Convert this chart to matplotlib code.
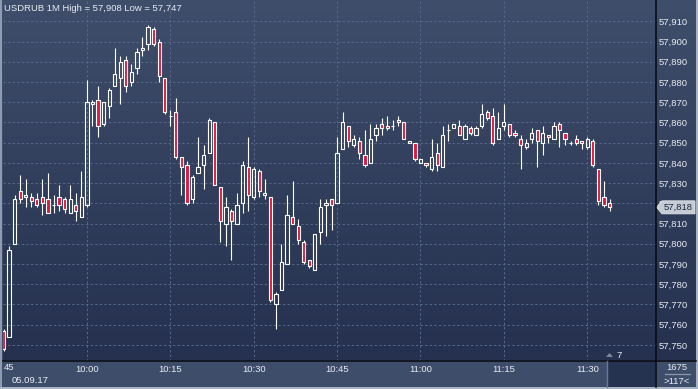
import numpy as np
import matplotlib.pyplot as plt
from matplotlib import transforms
from matplotlib.patches import Polygon, Rectangle

# USDRUB 1-minute bars, 05.09.17, first bar 09:45
opens = [57.757, 57.754, 57.800, 57.826, 57.823, 57.823, 57.822, 57.823, 57.822, 57.819,
         57.823, 57.822, 57.815, 57.819, 57.813, 57.819, 57.869, 57.871, 57.859, 57.868,
         57.878, 57.882, 57.891, 57.880, 57.887, 57.896, 57.899, 57.906, 57.900, 57.882,
         57.863, 57.865, 57.843, 57.839, 57.822, 57.835, 57.839, 57.845, 57.860, 57.828,
         57.810, 57.816, 57.810, 57.820, 57.838, 57.823, 57.836, 57.824, 57.823, 57.770,
         57.777, 57.790, 57.813, 57.809, 57.801, 57.792, 57.787, 57.806, 57.819, 57.822,
         57.820, 57.847, 57.858, 57.849, 57.851, 57.844, 57.840, 57.854, 57.859, 57.858,
         57.858, 57.860, 57.860, 57.850, 57.850, 57.840, 57.840, 57.837, 57.845, 57.838,
         57.856, 57.857, 57.858, 57.852, 57.857, 57.854, 57.858, 57.865, 57.863, 57.852,
         57.858, 57.859, 57.855, 57.852, 57.848, 57.852, 57.856, 57.850, 57.854, 57.852,
         57.859, 57.855, 57.850, 57.852, 57.851, 57.848, 57.851, 57.837, 57.823, 57.820]
highs = [57.758, 57.799, 57.824, 57.834, 57.832, 57.825, 57.825, 57.832, 57.835, 57.824,
         57.829, 57.823, 57.829, 57.825, 57.836, 57.881, 57.871, 57.878, 57.870, 57.877,
         57.897, 57.893, 57.893, 57.889, 57.897, 57.902, 57.908, 57.907, 57.901, 57.882,
         57.866, 57.872, 57.843, 57.841, 57.834, 57.853, 57.849, 57.862, 57.860, 57.828,
         57.823, 57.817, 57.825, 57.841, 57.853, 57.838, 57.837, 57.832, 57.823, 57.776,
         57.800, 57.824, 57.831, 57.812, 57.802, 57.792, 57.805, 57.822, 57.822, 57.822,
         57.853, 57.865, 57.858, 57.854, 57.853, 57.856, 57.859, 57.859, 57.862, 57.863,
         57.861, 57.863, 57.860, 57.851, 57.850, 57.842, 57.840, 57.852, 57.850, 57.858,
         57.859, 57.859, 57.861, 57.859, 57.858, 57.858, 57.869, 57.866, 57.867, 57.865,
         57.869, 57.859, 57.856, 57.854, 57.852, 57.857, 57.856, 57.858, 57.854, 57.860,
         57.860, 57.855, 57.851, 57.854, 57.851, 57.853, 57.852, 57.837, 57.831, 57.822]
lows = [57.747, 57.754, 57.800, 57.820, 57.818, 57.818, 57.818, 57.814, 57.815, 57.815,
        57.816, 57.815, 57.815, 57.811, 57.813, 57.818, 57.858, 57.853, 57.858, 57.862,
        57.878, 57.869, 57.875, 57.878, 57.884, 57.893, 57.896, 57.898, 57.880, 57.864,
        57.858, 57.842, 57.824, 57.819, 57.820, 57.835, 57.827, 57.845, 57.829, 57.801,
        57.799, 57.792, 57.810, 57.815, 57.816, 57.822, 57.823, 57.822, 57.771, 57.758,
        57.777, 57.790, 57.810, 57.800, 57.790, 57.788, 57.787, 57.800, 57.804, 57.807,
        57.820, 57.847, 57.848, 57.848, 57.842, 57.838, 57.840, 57.851, 57.854, 57.856,
        57.856, 57.858, 57.852, 57.850, 57.841, 57.840, 57.838, 57.836, 57.836, 57.838,
        57.851, 57.857, 57.854, 57.852, 57.854, 57.854, 57.857, 57.861, 57.849, 57.852,
        57.856, 57.853, 57.853, 57.837, 57.847, 57.850, 57.838, 57.844, 57.850, 57.852,
        57.848, 57.849, 57.849, 57.849, 57.847, 57.847, 57.838, 57.819, 57.818, 57.816]
closes = [57.748, 57.797, 57.822, 57.822, 57.824, 57.821, 57.819, 57.820, 57.815, 57.8192,
          57.819, 57.817, 57.822, 57.816, 57.823, 57.870, 57.870, 57.858, 57.870, 57.876,
          57.884, 57.890, 57.878, 57.885, 57.895, 57.897, 57.907, 57.899, 57.883, 57.865,
          57.863, 57.843, 57.838, 57.820, 57.833, 57.838, 57.844, 57.861, 57.829, 57.811,
          57.818, 57.811, 57.819, 57.839, 57.824, 57.837, 57.826, 57.825, 57.772, 57.775,
          57.791, 57.814, 57.810, 57.802, 57.791, 57.789, 57.805, 57.818, 57.820, 57.819,
          57.845, 57.860, 57.851, 57.852, 57.845, 57.839, 57.852, 57.857, 57.857, 57.857,
          57.858, 57.861, 57.852, 57.851, 57.842, 57.842, 57.839, 57.843, 57.839, 57.854,
          57.856, 57.859, 57.854, 57.858, 57.855, 57.857, 57.864, 57.862, 57.850, 57.857,
          57.860, 57.854, 57.854, 57.849, 57.850, 57.855, 57.851, 57.855, 57.853, 57.858,
          57.856, 57.852, 57.850, 57.850, 57.850, 57.852, 57.839, 57.821, 57.819, 57.818]

time_ticks = [15, 30, 45, 60, 75, 90, 105]
time_labels = ['10:00', '10:15', '10:30', '10:45', '11:00', '11:15', '11:30']
price_ticks = [57.750, 57.760, 57.770, 57.780, 57.790, 57.800, 57.810, 57.820, 57.830,
               57.840, 57.850, 57.860, 57.870, 57.880, 57.890, 57.900, 57.910]
price_labels = ['57,750', '57,760', '57,770', '57,780', '57,790', '57,800', '57,810',
                '57,820', '57,830', '57,840', '57,850', '57,860', '57,870', '57,880',
                '57,890', '57,900', '57,910']
title = 'USDRUB 1M High = 57,908 Low = 57,747'
last_price = 57.818
last_label = '57,818'

plt.rcParams['font.family'] = ['Liberation Sans', 'DejaVu Sans']
FS = 6.8
TXT = '#e8ecf2'
RED = '#e3173e'

W, H = 698, 389
fig = plt.figure(figsize=(W / 100, H / 100), dpi=100)
fig.patch.set_facecolor('#3e4d69')

# background layer in pixel coords
bg = fig.add_axes([0, 0, 1, 1], zorder=0)
bg.axis('off')
g = np.linspace(0, 1, 256)[:, None, None]
top = np.array([0x3f, 0x4e, 0x6b]) / 255
bot = np.array([0x25, 0x31, 0x4e]) / 255
img = top + (bot - top) * g
bg.imshow(img, extent=[3, 696, 360.5, 0], aspect='auto', interpolation='bilinear')
bg.add_patch(Rectangle((0, 0), 2.2, H, color='#8e9bb0', lw=0))
bg.add_patch(Rectangle((696, 0), 2, H, color='#a9b3c4', lw=0))
bg.add_patch(Rectangle((0, 386.5), W, 2.5, color='#a9b3c4', lw=0))
bg.add_patch(Rectangle((607, 361), 48, 25.5, color='#263350', lw=0))
bg.set_xlim(0, W)
bg.set_ylim(H, 0)

# candles
ax = fig.add_axes([3 / W, 1 - 360.5 / H, 652 / W, 360.5 / H], zorder=1)
ax.set_facecolor('none')
x = np.arange(len(opens))
o = np.array(opens)
c = np.array(closes)
hi = np.array(highs)
lo = np.array(lows)
body_top = np.maximum(o, c)
body_bot = np.minimum(o, c)
up = c >= o

ax.vlines(x, body_top, hi, color='white', lw=0.8, zorder=3)
ax.vlines(x, lo, body_bot, color='white', lw=0.8, zorder=3)
ax.bar(x, body_top - body_bot, bottom=body_bot, width=0.58,
       color=np.where(up, 'none', RED), edgecolor='white', linewidth=0.8, zorder=4)

ax.set_xlim(-0.09, 117.18)
ax.set_ylim(57.74225, 57.92053)
ax.set_xticks(time_ticks)
ax.set_xticklabels(time_labels)
ax.set_yticks(price_ticks)
ax.set_yticklabels(price_labels)
ax.yaxis.tick_right()
ax.tick_params(axis='y', length=0, pad=2.6, labelsize=FS, labelcolor=TXT)
ax.tick_params(axis='x', length=0, pad=3.0, labelsize=FS, labelcolor=TXT)
ax.grid(color='#56678a', linestyle=(0, (2.2, 2.2)), linewidth=0.75, zorder=1)
for s in ax.spines.values():
    s.set_visible(False)

# overlay: separators, labels, markers
ov = fig.add_axes([0, 0, 1, 1], zorder=2)
ov.set_facecolor('none')
ov.axis('off')
ov.set_xlim(0, W)
ov.set_ylim(H, 0)
ov.plot([655.5, 655.5], [0, 386.5], color='#05080f', lw=1.1)
ov.plot([3, 696], [360.8, 360.8], color='#05080f', lw=1.1)
ov.plot([607, 607], [361, 386.5], color='#6b7894', lw=1.0)
ov.plot([665, 690], [374, 374], color='#8c97aa', lw=0.9)

ov.text(4, 8.5, title, color=TXT, fontsize=FS, va='center', ha='left')
ov.text(4, 368, '45', color=TXT, fontsize=FS, va='center', ha='left')
ov.text(12, 380.5, '05.09.17', color=TXT, fontsize=FS, va='center', ha='left')
ov.text(619, 355, '7', color=TXT, fontsize=FS, va='center', ha='center')
ov.add_patch(Polygon([[606, 357], [609.5, 353], [613, 357]], closed=True,
                     color='#7d889e', lw=0))
ov.text(677, 367.5, '1675', color=TXT, fontsize=FS, va='center', ha='center')
ov.text(677, 381, '>117<', color=TXT, fontsize=FS, va='center', ha='center')

# current price marker on the price scale
trans = transforms.blended_transform_factory(ov.transData, ax.transData)
fig.canvas.draw()
y_pix = ov.transData.inverted().transform(ax.transData.transform((0, last_price)))[1]
ov.add_patch(Polygon([[656.5, y_pix], [662, y_pix - 6.5], [695, y_pix - 6.5],
                      [695, y_pix + 6.5], [662, y_pix + 6.5]], closed=True,
                     facecolor='#c6cbd4', edgecolor='#e2e6ec', lw=0.6))
ov.text(678.5, y_pix, last_label, color='#1b2640', fontsize=FS, va='center', ha='center')

fig.savefig('out.png', dpi=100, facecolor=fig.get_facecolor())
